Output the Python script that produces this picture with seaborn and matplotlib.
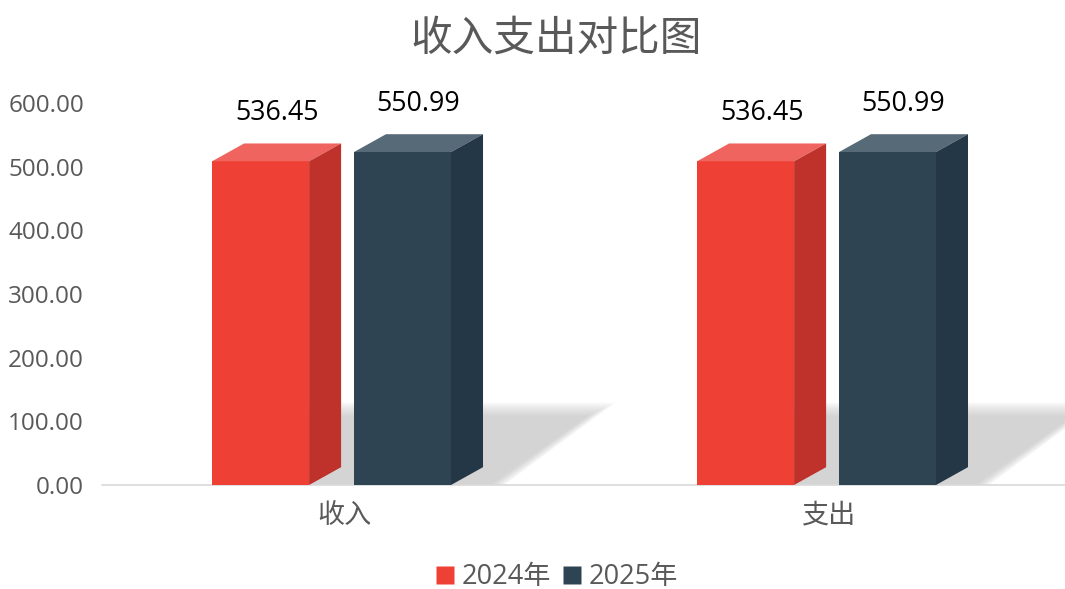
import matplotlib
matplotlib.use("Agg")
import matplotlib.pyplot as plt
import seaborn as sns
import pandas as pd
from matplotlib.patches import Polygon
from matplotlib.lines import Line2D

categories = ["收入", "支出"]
years = ["2024年", "2025年"]
values_2024 = [536.45, 536.45]
values_2025 = [550.99, 550.99]
y_ticks = [0, 100, 200, 300, 400, 500, 600]
tick_labels = ["0.00", "100.00", "200.00", "300.00", "400.00", "500.00", "600.00"]

df = pd.DataFrame({
    "类别": categories * 2,
    "年份": [years[0]] * 2 + [years[1]] * 2,
    "值": values_2024 + values_2025,
})

front = {"2024年": "#EE4035", "2025年": "#2E4453"}
topc = {"2024年": "#EF645E", "2025年": "#566A78"}
sidec = {"2024年": "#BF312B", "2025年": "#243746"}

sns.set_theme(style="white")
plt.rcParams["font.family"] = ["Open Sans", "Noto Sans CJK SC", "DejaVu Sans"]

W, H = 1065, 589
fig = plt.figure(figsize=(W / 100, H / 100), dpi=100)
ax_left = 102 / W
ax_bottom = (H - 485) / H
ax_height = 382 / H
ax_width = (W - 102) / W
ax = fig.add_axes([ax_left, ax_bottom, ax_width, ax_height])

sns.barplot(data=df, x="类别", y="值", hue="年份", palette=front, ax=ax,
            legend=False, saturation=1, width=0.8)

ax.set_xlim(-0.5, -0.5 + (W - 102) / 485)
ax.set_ylim(0, 600)

depth_y = 28.0      # data units
depth_x = 0.066     # category units
bar_w = 0.2
offsets = {"2024年": -0.273, "2025年": 0.0196}

# soft shadows behind each group
bar_patches = list(ax.patches)
n = 16
for ci in range(len(categories)):
    for k in range(n):
        g = (n - 1 - k) / (n - 1)   # 1 -> outermost
        gx = g * 0.06
        gy = g * 22
        shade = Polygon([(ci - 0.2, 0), (ci + 0.30 + gx * 0.5, 0),
                         (ci + 0.50 + gx, 108 + gy), (ci - 0.1, 108 + gy)],
                        closed=True, facecolor="#B4B4B4", edgecolor="none",
                        alpha=0.045, zorder=1)
        ax.add_patch(shade)

idx = 0
for yr in years:
    for ci, cat in enumerate(categories):
        p = bar_patches[idx]
        idx += 1
        v = df[(df["类别"] == cat) & (df["年份"] == yr)]["值"].iloc[0]
        x0 = ci + offsets[yr]
        hf = v - depth_y
        p.set_x(x0)
        p.set_width(bar_w)
        p.set_height(hf)
        p.set_zorder(3)
        p.set_edgecolor("none")
        top = Polygon([(x0, hf), (x0 + bar_w, hf), (x0 + bar_w + depth_x, v), (x0 + depth_x, v)],
                      closed=True, facecolor=topc[yr], edgecolor="none", zorder=3)
        side = Polygon([(x0 + bar_w, 0), (x0 + bar_w + depth_x, depth_y),
                        (x0 + bar_w + depth_x, v), (x0 + bar_w, hf)],
                       closed=True, facecolor=sidec[yr], edgecolor="none", zorder=3)
        ax.add_patch(top)
        ax.add_patch(side)
        ax.text(x0 + (bar_w + depth_x) / 2, v + 48, f"{v:.2f}", ha="center", va="center",
                fontsize=19.3, color="#000000", zorder=5)

ax.set_yticks(y_ticks)
ax.set_yticklabels(tick_labels)
ax.set_xlabel("")
ax.set_ylabel("")
ax.tick_params(axis="y", length=0, pad=13, labelsize=17.5, labelcolor="#595959")
ax.tick_params(axis="x", length=0, pad=12, labelsize=19.5, labelcolor="#595959")
for lbl in ax.get_xticklabels():
    lbl.set_fontfamily(["Noto Sans CJK SC", "DejaVu Sans"])
for s in ["top", "right", "left"]:
    ax.spines[s].set_visible(False)
ax.spines["bottom"].set_color("#D9D9D9")
ax.spines["bottom"].set_linewidth(1.2)

fig.text(0.522, 1 - 39 / H, "收入支出对比图", ha="center", va="center", fontsize=30,
         color="#595959", family=["Noto Sans CJK SC", "DejaVu Sans"])

handles = [Line2D([0], [0], marker="s", linestyle="none", markersize=13,
                  markerfacecolor=front[y], markeredgecolor="none") for y in years]
fig.legend(handles, years, loc="center", bbox_to_anchor=(0.522, 1 - 577 / H), ncol=2,
           frameon=False, fontsize=19.5, labelcolor="#595959", handletextpad=0.2,
           columnspacing=0.4, handlelength=0.8)

fig.savefig("out.png", dpi=100)
